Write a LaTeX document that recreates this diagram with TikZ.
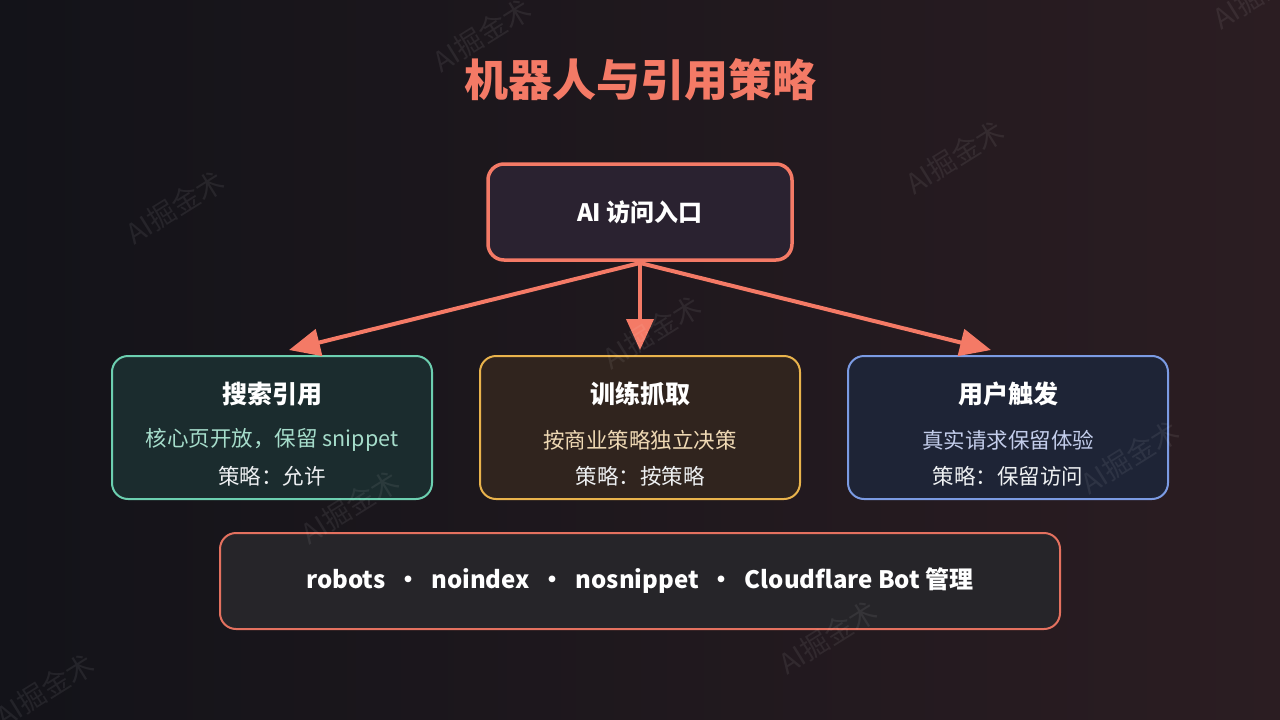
\documentclass[tikz,border=0pt]{standalone}
\usepackage{fontspec}
\setmainfont{Noto Sans CJK SC}
\usetikzlibrary{arrows.meta}
\definecolor{bgL}{HTML}{131319}
\definecolor{bgR}{HTML}{2B1D22}
\definecolor{coral}{HTML}{F47A66}
\definecolor{coralB}{HTML}{E4715F}
\definecolor{topfill}{HTML}{2A2230}
\definecolor{botfill}{HTML}{262529}
\definecolor{tealB}{HTML}{6CCFB0}
\definecolor{tealF}{HTML}{1B2C2E}
\definecolor{tealT}{HTML}{A6DDCB}
\definecolor{goldB}{HTML}{E9B34C}
\definecolor{goldF}{HTML}{30241E}
\definecolor{goldT}{HTML}{EFD9B4}
\definecolor{blueB}{HTML}{7B9BE3}
\definecolor{blueF}{HTML}{1E2436}
\definecolor{blueT}{HTML}{C3CDEB}
\definecolor{softW}{HTML}{EEF0F2}
\tikzset{
  card/.style={draw, rounded corners=16pt, line width=2pt, minimum height=143pt, minimum width=320pt, inner sep=0pt},
  cardtitle/.style={text=white, font=\fontsize{25}{29}\selectfont\bfseries, inner sep=0pt},
  cardline/.style={font=\fontsize{21.5}{25}\selectfont, inner sep=0pt},
  link/.style={draw=coral, line width=4pt, -{Triangle[length=31pt,width=27pt]}},
  wmark/.style={text=white, text opacity=0.07, font=\fontsize{28}{32}\selectfont, rotate=32, inner sep=0pt}
}
\begin{document}
\begin{tikzpicture}[x=1pt,y=-1pt]
\shade[left color=bgL, right color=bgR] (0,0) rectangle (1280,720);
\useasboundingbox (0,0) rectangle (1280,720);

% title
\node[text=coral, font=\fontsize{44}{50}\selectfont\bfseries, inner sep=0pt] (title) at (640,80) {机器人与引用策略};

% top box
\node[draw=coral, fill=topfill, line width=3.5pt, rounded corners=16pt, minimum width=304pt, minimum height=96pt, inner sep=0pt,
  text=white, font=\fontsize{24}{28}\selectfont\bfseries] (entry) at (640,212) {AI 访问入口};

% cards
\node[card, draw=tealB, fill=tealF] (search) at (272,427.5) {};
\node[card, draw=goldB, fill=goldF] (train) at (640,427.5) {};
\node[card, draw=blueB, fill=blueF] (user) at (1008,427.5) {};

\node[cardtitle] (searchT) at (272,394) {搜索引用};
\node[cardline, text=tealT] (searchA) at (272,440) {核心页开放，保留 snippet};
\node[cardline, text=softW] (searchB) at (272,476) {策略：允许};

\node[cardtitle] (trainT) at (640,394) {训练抓取};
\node[cardline, text=goldT] (trainA) at (640,440) {按商业策略独立决策};
\node[cardline, text=softW] (trainB) at (640,476) {策略：按策略};

\node[cardtitle] (userT) at (1008,394) {用户触发};
\node[cardline, text=blueT] (userA) at (1008,440) {真实请求保留体验};
\node[cardline, text=softW] (userB) at (1008,476) {策略：保留访问};

% bottom bar
\node[draw=coralB, fill=botfill, line width=2pt, rounded corners=16pt, minimum width=840pt, minimum height=96pt, inner sep=0pt,
  text=white, font=\fontsize{24}{28}\selectfont\bfseries] (tools) at (640,581) {robots ~·~ noindex ~·~ nosnippet ~·~ Cloudflare Bot 管理};

% connectors
\coordinate (src) at (640,263);
\coordinate (tipL) at (289,350);
\coordinate (tipM) at (640,350);
\coordinate (tipR) at (991,350);
\draw[link] (src) -- (tipL);
\draw[link] (src) -- (tipM);
\draw[link] (src) -- (tipR);

% watermarks
\node[wmark] (w1) at (482,35) {AI掘金术};
\node[wmark] (w2) at (175,207) {AI掘金术};
\node[wmark] (w3) at (955,157) {AI掘金术};
\node[wmark] (w4) at (652,332) {AI掘金术};
\node[wmark] (w5) at (1262,-8) {AI掘金术};
\node[wmark] (w6) at (1130,457) {AI掘金术};
\node[wmark] (w7) at (350,507) {AI掘金术};
\node[wmark] (w8) at (828,637) {AI掘金术};
\node[wmark] (w9) at (45,690) {AI掘金术};
\end{tikzpicture}
\end{document}
